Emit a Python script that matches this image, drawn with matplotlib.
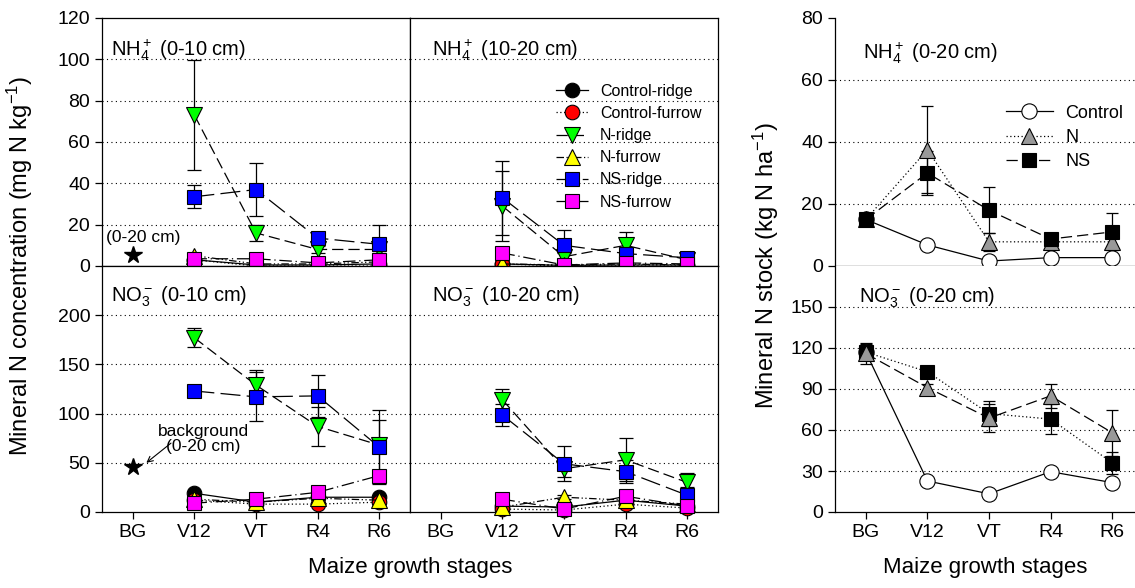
import matplotlib
matplotlib.use("Agg")
import matplotlib.pyplot as plt
from matplotlib.lines import Line2D
import numpy as np

plt.rcParams['font.family'] = ['Liberation Sans', 'DejaVu Sans']
plt.rcParams['mathtext.fontset'] = 'custom'
plt.rcParams['mathtext.rm'] = 'Liberation Sans'
plt.rcParams['mathtext.it'] = 'Liberation Sans:italic'

# ---------------- data ----------------
stages = ["BG", "V12", "VT", "R4", "R6"]
series_names = ["Control-ridge", "Control-furrow", "N-ridge", "N-furrow", "NS-ridge", "NS-furrow"]

# background (0-20 cm) values
bg_nh4 = 5.5
bg_no3 = 46

# NH4+ 0-10 cm (V12, VT, R4, R6)
nh4_010 = {
    "Control-ridge": [3, 0.5, 0.5, 1],
    "Control-furrow": [3, 0, 0, 0],
    "N-ridge": [73, 16, 8, 8],
    "N-furrow": [5, 1, 1, 2],
    "NS-ridge": [33.5, 37, 13.5, 10.5],
    "NS-furrow": [3.5, 3.5, 1.5, 3],
}
nh4_010_err = {
    "Control-ridge": [1, 0.3, 0.3, 0.5],
    "Control-furrow": [1, 0.3, 0.3, 0.3],
    "N-ridge": [26.5, 4, 1.5, 1.5],
    "N-furrow": [1, 0.5, 0.5, 0.5],
    "NS-ridge": [5.5, 13, 2, 9.5],
    "NS-furrow": [1, 1, 0.5, 1],
}
# NH4+ 10-20 cm
nh4_1020 = {
    "Control-ridge": [1, 0.3, 0.5, 0.5],
    "Control-furrow": [1, 0, 0, 0],
    "N-ridge": [29, 4.5, 10, 3],
    "N-furrow": [1, 0.5, 1, 0.5],
    "NS-ridge": [33, 10, 6, 4],
    "NS-furrow": [6.3, 0.5, 1.5, 1],
}
nh4_1020_err = {
    "Control-ridge": [0.5, 0.2, 0.3, 0.3],
    "Control-furrow": [0.5, 0.2, 0.2, 0.2],
    "N-ridge": [17, 2, 6.5, 1],
    "N-furrow": [0.5, 0.3, 0.3, 0.3],
    "NS-ridge": [18, 7.5, 2, 1],
    "NS-furrow": [1, 0.3, 0.5, 0.3],
}
# NO3- 0-10 cm
no3_010 = {
    "Control-ridge": [19, 10, 15, 15],
    "Control-furrow": [12, 8, 8, 10],
    "N-ridge": [177, 129, 87, 68],
    "N-furrow": [13, 10, 14, 12],
    "NS-ridge": [123, 117, 118, 66],
    "NS-furrow": [9, 13, 20, 37],
}
no3_010_err = {
    "Control-ridge": [2, 1, 2, 2],
    "Control-furrow": [1, 1, 1, 1],
    "N-ridge": [9.5, 15, 20, 25],
    "N-furrow": [1, 1, 2, 2],
    "NS-ridge": [3, 25, 21, 38],
    "NS-furrow": [2, 2, 3, 5],
}
# NO3- 10-20 cm
no3_1020 = {
    "Control-ridge": [6, 5, 12, 6],
    "Control-furrow": [3, 2, 8, 4],
    "N-ridge": [114, 44, 53, 30],
    "N-furrow": [5, 15, 12, 8],
    "NS-ridge": [98.5, 49, 41, 17],
    "NS-furrow": [13, 3, 16, 6],
}
no3_1020_err = {
    "Control-ridge": [1, 1, 2, 1],
    "Control-furrow": [1, 1, 1, 1],
    "N-ridge": [11, 8, 22, 10],
    "N-furrow": [1, 2, 2, 1],
    "NS-ridge": [11, 18, 12, 8],
    "NS-furrow": [2, 1, 2, 1],
}

# stocks 0-20 cm (BG, V12, VT, R4, R6)
stock_names = ["Control", "N", "NS"]
nh4_stock = {
    "Control": [15, 6.8, 1.6, 2.7, 2.7],
    "N": [15, 37.5, 7.8, 7.8, 7.8],
    "NS": [15, 30, 18, 8.7, 11],
}
nh4_stock_err = {
    "Control": [1, 0.8, 0.5, 0.5, 0.5],
    "N": [2, 14, 3, 1, 4],
    "NS": [2, 7, 7.5, 1, 6],
}
no3_stock = {
    "Control": [117, 22.7, 13.3, 29.5, 21.5],
    "N": [116, 91, 68.7, 85, 58],
    "NS": [117, 102.6, 72, 68, 36],
}
no3_stock_err = {
    "Control": [2, 1, 1, 1, 1],
    "N": [8, 3, 10, 9, 17],
    "NS": [6, 3, 9, 11, 8],
}

# ---------------- styles ----------------
sty = {
    "Control-ridge": dict(marker="o", mfc="black", ls="-"),
    "Control-furrow": dict(marker="o", mfc="#ff0000", ls=(0, (1, 2))),
    "N-ridge": dict(marker="v", mfc="#00ff00", ls=(0, (9, 4))),
    "N-furrow": dict(marker="^", mfc="#ffff00", ls=(0, (6, 2, 1, 2, 1, 2))),
    "NS-ridge": dict(marker="s", mfc="#0000ff", ls=(0, (16, 5))),
    "NS-furrow": dict(marker="s", mfc="#ff00ff", ls=(0, (10, 3, 1, 3))),
}
msize = {"o": 10.5, "v": 11, "^": 11, "s": 10.5}

W, H = 1135, 588
fig = plt.figure(figsize=(W / 100, H / 100), dpi=100)


def px_axes(x0, y0, x1, y1):
    return fig.add_axes([x0 / W, 1 - y1 / H, (x1 - x0) / W, (y1 - y0) / H])


FS_TICK = 14
x_idx = np.arange(1, len(stages) + 1)


def style_left(ax, ymax, ticks, show_ylabels, show_xlabels):
    ax.set_xlim(0.5, 5.5)
    ax.set_ylim(0, ymax)
    ax.set_xticks(x_idx)
    ax.set_yticks(ticks)
    for t in ticks[1:]:
        if t < ymax:
            ax.axhline(t, color="black", lw=0.8, ls=(0, (1, 3)), zorder=0)
    ax.tick_params(axis="both", direction="out", length=5, width=0.9, labelsize=FS_TICK)
    if show_xlabels:
        ax.set_xticklabels(stages)
    else:
        ax.set_xticklabels([])
    if show_ylabels:
        ax.set_yticklabels([str(t) for t in ticks])
    else:
        ax.tick_params(axis="y", left=False, labelleft=False)
    for s in ax.spines.values():
        s.set_linewidth(0.9)


def plot_series(ax, data, err):
    for name in series_names:
        st = sty[name]
        x = x_idx[1:]
        ax.errorbar(x, data[name], yerr=err[name], fmt="none", ecolor="black",
                    elinewidth=0.9, capsize=5, capthick=0.9, zorder=3, clip_on=False)
        ax.plot(x, data[name], color="black", lw=0.9, ls=st["ls"], marker=st["marker"],
                mfc=st["mfc"], mec="black", mew=0.8, ms=msize[st["marker"]],
                zorder=4, clip_on=False)


# Axes
ax_tl = px_axes(102, 18, 410, 266)
ax_tm = px_axes(410, 18, 718, 266)
ax_bl = px_axes(102, 266, 410, 512)
ax_bm = px_axes(410, 266, 718, 512)

style_left(ax_tl, 120, [0, 20, 40, 60, 80, 100, 120], True, False)
style_left(ax_tm, 120, [0, 20, 40, 60, 80, 100, 120], False, False)
style_left(ax_bl, 250, [0, 50, 100, 150, 200], True, True)
style_left(ax_bm, 250, [0, 50, 100, 150, 200], False, True)

plot_series(ax_tl, nh4_010, nh4_010_err)
plot_series(ax_tm, nh4_1020, nh4_1020_err)
plot_series(ax_bl, no3_010, no3_010_err)
plot_series(ax_bm, no3_1020, no3_1020_err)

# background stars
ax_tl.plot([1], [bg_nh4], marker="*", color="black", ms=13, ls="none", zorder=5)
ax_bl.plot([1], [bg_no3], marker="*", color="black", ms=13, ls="none", zorder=5)
ax_tl.text(1.17, 14, "(0-20 cm)", ha="center", va="center", fontsize=12.5)
ax_bl.text(2.15, 74, "background\n(0-20 cm)", ha="center", va="center", fontsize=12.5,
           linespacing=1.05)
ax_bl.annotate("", xy=(1.22, 50), xytext=(1.62, 70),
               arrowprops=dict(arrowstyle="->", lw=0.8, color="black",
                               shrinkA=0, shrinkB=0))

TFS = 14.5
ax_tl.text(0.03, 0.87, r"NH$_4^+$ (0-10 cm)", transform=ax_tl.transAxes, fontsize=TFS, va="center")
ax_tm.text(0.07, 0.87, r"NH$_4^+$ (10-20 cm)", transform=ax_tm.transAxes, fontsize=TFS, va="center")
ax_bl.text(0.03, 0.875, r"NO$_3^-$ (0-10 cm)", transform=ax_bl.transAxes, fontsize=TFS, va="center")
ax_bm.text(0.07, 0.875, r"NO$_3^-$ (10-20 cm)", transform=ax_bm.transAxes, fontsize=TFS, va="center")

# legend in top-middle
handles = []
for name in series_names:
    st = sty[name]
    handles.append(Line2D([0], [0], color="black", lw=0.9, ls=st["ls"], marker=st["marker"],
                          mfc=st["mfc"], mec="black", mew=0.8, ms=msize[st["marker"]]))
ax_tm.legend(handles, series_names, loc="upper left", bbox_to_anchor=(0.475, 0.735),
             frameon=False, fontsize=11.5, handlelength=2.0, handletextpad=0.75,
             labelspacing=0.45, borderpad=0, borderaxespad=0)

# ---------------- right panels ----------------
ax_rt = px_axes(835, 18, 1135, 266)
ax_rb = px_axes(835, 266, 1135, 512)

stock_sty_top = {
    "Control": dict(marker="o", mfc="white", ls="-", ms=11, z=4),
    "N": dict(marker="^", mfc="#999999", ls=(0, (1, 2)), ms=11.5, z=5),
    "NS": dict(marker="s", mfc="black", ls=(0, (9, 4)), ms=10.5, z=6),
}
stock_sty_bot = {
    "Control": dict(marker="o", mfc="white", ls="-", ms=11, z=4),
    "N": dict(marker="^", mfc="#999999", ls=(0, (9, 4)), ms=11.5, z=6),
    "NS": dict(marker="s", mfc="black", ls=(0, (1, 2)), ms=10.5, z=5),
}


def style_right(ax, ymax, ticks, show_x):
    ax.set_xlim(0.5, 5.5 - 8 / 61.5)
    ax.set_ylim(0, ymax)
    ax.set_xticks(x_idx)
    ax.set_yticks(ticks)
    for t in ticks[1:]:
        if t < ymax:
            ax.axhline(t, color="black", lw=0.8, ls=(0, (1, 3)), zorder=0)
    ax.spines["top"].set_visible(False)
    ax.spines["right"].set_visible(False)
    for s in ax.spines.values():
        s.set_linewidth(0.9)
    ax.tick_params(axis="both", direction="out", length=5, width=0.9, labelsize=FS_TICK)
    ax.set_xticklabels(stages if show_x else [])


style_right(ax_rt, 80, [0, 20, 40, 60, 80], False)
style_right(ax_rb, 180, [0, 30, 60, 90, 120, 150], True)


def plot_stock(ax, data, err, stys):
    for name in stock_names:
        st = stys[name]
        ax.errorbar(x_idx, data[name], yerr=err[name], fmt="none", ecolor="black",
                    elinewidth=0.9, capsize=4, capthick=0.9, zorder=3, clip_on=False)
        ax.plot(x_idx, data[name], color="black", lw=0.9, ls=st["ls"], marker=st["marker"],
                mfc=st["mfc"], mec="black", mew=0.8, ms=st["ms"], zorder=st["z"], clip_on=False)


plot_stock(ax_rt, nh4_stock, nh4_stock_err, stock_sty_top)
plot_stock(ax_rb, no3_stock, no3_stock_err, stock_sty_bot)

ax_rt.text(0.093, 0.86, r"NH$_4^+$ (0-20 cm)", transform=ax_rt.transAxes, fontsize=TFS, va="center")
ax_rb.text(0.08, 0.87, r"NO$_3^-$ (0-20 cm)", transform=ax_rb.transAxes, fontsize=TFS, va="center")

h2 = []
for name in stock_names:
    st = stock_sty_top[name]
    h2.append(Line2D([0], [0], color="black", lw=0.9, ls=st["ls"], marker=st["marker"],
                     mfc=st["mfc"], mec="black", mew=0.8, ms=st["ms"]))
ax_rt.legend(h2, stock_names, loc="upper left", bbox_to_anchor=(0.57, 0.65),
             frameon=False, fontsize=13, handlelength=2.6, handletextpad=0.7,
             labelspacing=0.4, borderpad=0, borderaxespad=0)

# axis labels
fig.text(20 / W, 1 - 266 / H, r"Mineral N concentration (mg N kg$^{-1}$)", rotation=90,
         ha="center", va="center", fontsize=17)
fig.text(766 / W, 1 - 266 / H, r"Mineral N stock (kg N ha$^{-1}$)", rotation=90,
         ha="center", va="center", fontsize=17)
fig.text(410 / W, 1 - 568 / H, "Maize growth stages", ha="center", va="center", fontsize=16)
fig.text(985 / W, 1 - 568 / H, "Maize growth stages", ha="center", va="center", fontsize=16)

fig.savefig("out.png", dpi=100)
